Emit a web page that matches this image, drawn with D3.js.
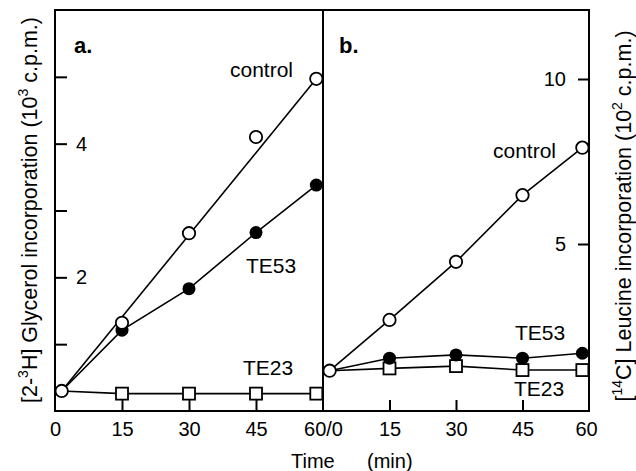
<!DOCTYPE html>
<html>
<head>
<meta charset="utf-8">
<script src="https://cdn.jsdelivr.net/npm/d3@7"></script>
<style>
  html, body { margin: 0; padding: 0; background: #fff; }
  svg { display: block; }
  text { font-family: "Liberation Sans", Arial, Helvetica, sans-serif; fill: #000; }
</style>
</head>
<body>
<svg id="chart" width="636" height="471"></svg>
<script>
// ---- data ----
const times = [1.5, 15, 30, 45, 58.5];
const glycerolControl = [0.30, 1.32, 2.66, 4.10, 4.97];
const glycerolTE53    = [0.30, 1.21, 1.83, 2.67, 3.38];
const glycerolTE23    = [0.30, 0.26, 0.26, 0.26, 0.26];
const leucineControl  = [1.16, 2.70, 4.46, 6.48, 7.92];
const leucineTE53     = [1.16, 1.54, 1.64, 1.54, 1.69];
const leucineTE23     = [1.16, 1.23, 1.30, 1.18, 1.18];

const xTickValues = [15, 30, 45];
const xLabelsA = ["0", "15", "30", "45", "60/0"];
const xLabelValuesA = [0, 15, 30, 45, 60];
const xLabelsB = ["15", "30", "45", "60"];
const xLabelValuesB = [15, 30, 45, 60];
const yTicksA = [1, 2, 3, 4, 5];
const yLabelsA = [2, 4];
const yTicksB = [5, 10];

const seriesNames = ["control", "TE53", "TE23"];

// ---- layout ----
const svg = d3.select("#chart");
const L = 55, M = 323, R = 589, T = 10, B = 411;

const xA = d3.scaleLinear().domain([0, 60]).range([L, M]);
const xB = d3.scaleLinear().domain([0, 60]).range([M, R]);
const yA = d3.scaleLinear().domain([0, 6]).range([B, T]);
const yB = d3.scaleLinear().domain([0, 10]).range([409, 79]);

const FONT = '"Liberation Sans", Arial, Helvetica, sans-serif';

function styleAxis(g, size) {
  g.attr("font-family", FONT).attr("font-size", size);
  g.select(".domain").remove();
  g.selectAll(".tick line").attr("stroke", "#000").attr("stroke-width", 2);
  g.selectAll(".tick text").attr("fill", "#000");
}

// left y axis (panel a) — inward ticks
svg.append("g").attr("transform", `translate(${L},0)`)
  .call(d3.axisRight(yA).tickValues(yTicksA).tickSize(12).tickPadding(9)
    .tickFormat(d => yLabelsA.includes(d) ? String(d) : ""))
  .call(g => styleAxis(g, 20));

// right y axis (panel b) — inward ticks
svg.append("g").attr("transform", `translate(${R},0)`)
  .call(d3.axisLeft(yB).tickValues(yTicksB).tickSize(11).tickPadding(12))
  .call(g => styleAxis(g, 20));

// bottom ticks (inward)
[xA, xB].forEach(x => {
  svg.append("g").attr("transform", `translate(0,${B})`)
    .call(d3.axisBottom(x).tickValues(xTickValues).tickSizeInner(-11).tickSizeOuter(0).tickFormat(""))
    .call(g => styleAxis(g, 20));
});
// bottom labels
svg.append("g").attr("transform", `translate(0,${B})`)
  .call(d3.axisBottom(xA).tickValues(xLabelValuesA).tickSize(0).tickPadding(11)
    .tickFormat((d, i) => xLabelsA[i]))
  .call(g => styleAxis(g, 20));
svg.append("g").attr("transform", `translate(0,${B})`)
  .call(d3.axisBottom(xB).tickValues(xLabelValuesB).tickSize(0).tickPadding(11)
    .tickFormat((d, i) => xLabelsB[i]))
  .call(g => { styleAxis(g, 20); g.selectAll(".tick text").attr("dx", (d) => d === 60 ? -3 : 0); });

// frame
svg.append("rect").attr("x", L).attr("y", T).attr("width", R - L).attr("height", B - T)
  .attr("fill", "none").attr("stroke", "#000").attr("stroke-width", 2);
svg.append("line").attr("x1", M).attr("x2", M).attr("y1", T).attr("y2", B)
  .attr("stroke", "#000").attr("stroke-width", 2);

// Panel a
(function () {
  const g = svg.append("g");
  const line = d3.line().x(d => xA(d[0])).y(d => yA(d[1]));
  const ctrl = times.map((t, i) => [t, glycerolControl[i]]);
  const te53 = times.map((t, i) => [t, glycerolTE53[i]]);
  const te23 = times.map((t, i) => [t, glycerolTE23[i]]);
  // control: straight fitted line from first to last point
  g.append("path").attr("d", line([ctrl[0], ctrl[ctrl.length - 1]]))
    .attr("fill", "none").attr("stroke", "#000").attr("stroke-width", 1.6);
  g.append("path").attr("d", line(te53)).attr("fill", "none").attr("stroke", "#000").attr("stroke-width", 1.6);
  g.append("path").attr("d", line(te23)).attr("fill", "none").attr("stroke", "#000").attr("stroke-width", 1.6);
  g.selectAll(".sq").data(te23.slice(1)).join("rect")
    .attr("x", d => xA(d[0]) - 6).attr("y", d => yA(d[1]) - 6).attr("width", 12).attr("height", 12)
    .attr("fill", "#fff").attr("stroke", "#000").attr("stroke-width", 1.8);
  g.selectAll(".fc").data(te53.slice(1)).join("circle")
    .attr("cx", d => xA(d[0])).attr("cy", d => yA(d[1])).attr("r", 6.5)
    .attr("fill", "#000");
  g.selectAll(".oc").data(ctrl).join("circle")
    .attr("cx", d => xA(d[0])).attr("cy", d => yA(d[1])).attr("r", 6.2)
    .attr("fill", "#fff").attr("stroke", "#000").attr("stroke-width", 1.8);
})();

// Panel b
(function () {
  const g = svg.append("g");
  const line = d3.line().x(d => xB(d[0])).y(d => yB(d[1]));
  const ctrl = times.map((t, i) => [t, leucineControl[i]]);
  const te53 = times.map((t, i) => [t, leucineTE53[i]]);
  const te23 = times.map((t, i) => [t, leucineTE23[i]]);
  [ctrl, te53, te23].forEach(s => {
    g.append("path").attr("d", line(s)).attr("fill", "none").attr("stroke", "#000").attr("stroke-width", 1.6);
  });
  g.selectAll(".sq").data(te23.slice(1)).join("rect")
    .attr("x", d => xB(d[0]) - 6).attr("y", d => yB(d[1]) - 6).attr("width", 12).attr("height", 12)
    .attr("fill", "#fff").attr("stroke", "#000").attr("stroke-width", 1.8);
  g.selectAll(".fc").data(te53.slice(1)).join("circle")
    .attr("cx", d => xB(d[0])).attr("cy", d => yB(d[1])).attr("r", 6.5)
    .attr("fill", "#000");
  g.selectAll(".oc").data(ctrl).join("circle")
    .attr("cx", d => xB(d[0])).attr("cy", d => yB(d[1])).attr("r", 6.2)
    .attr("fill", "#fff").attr("stroke", "#000").attr("stroke-width", 1.8);
})();

// ---- text labels ----
function label(txt, x, y, size, weight) {
  svg.append("text").attr("x", x).attr("y", y).attr("font-size", size)
    .attr("font-weight", weight || "normal").text(txt);
}
label("a.", 74, 53, 22, "bold");
label("b.", 339, 53, 22, "bold");
label(seriesNames[0], 230, 77, 21);
label(seriesNames[1], 246, 273, 21);
label(seriesNames[2], 243, 375, 21);
label(seriesNames[0], 493, 158, 21);
label(seriesNames[1], 515, 340, 21);
label(seriesNames[2], 514, 396, 21);

label("Time", 291, 468, 20);
label("(min)", 367, 468, 20);

// y titles
const yl = svg.append("text").attr("transform", "translate(37,210) rotate(-90)")
  .attr("text-anchor", "middle").attr("font-size", 21.5);
yl.append("tspan").text("[2-");
yl.append("tspan").attr("font-size", 14).attr("dy", -9).text("3");
yl.append("tspan").attr("dy", 9).text("H] Glycerol incorporation (10");
yl.append("tspan").attr("font-size", 14).attr("dy", -9).text("3");
yl.append("tspan").attr("dy", 9).text(" c.p.m.)");

const yr = svg.append("text").attr("transform", "translate(631,216) rotate(-90)")
  .attr("text-anchor", "middle").attr("font-size", 21.5);
yr.append("tspan").text("[");
yr.append("tspan").attr("font-size", 14).attr("dy", -9).text("14");
yr.append("tspan").attr("dy", 9).text("C] Leucine incorporation (10");
yr.append("tspan").attr("font-size", 14).attr("dy", -9).text("2");
yr.append("tspan").attr("dy", 9).text(" c.p.m.)");
</script>
</body>
</html>
